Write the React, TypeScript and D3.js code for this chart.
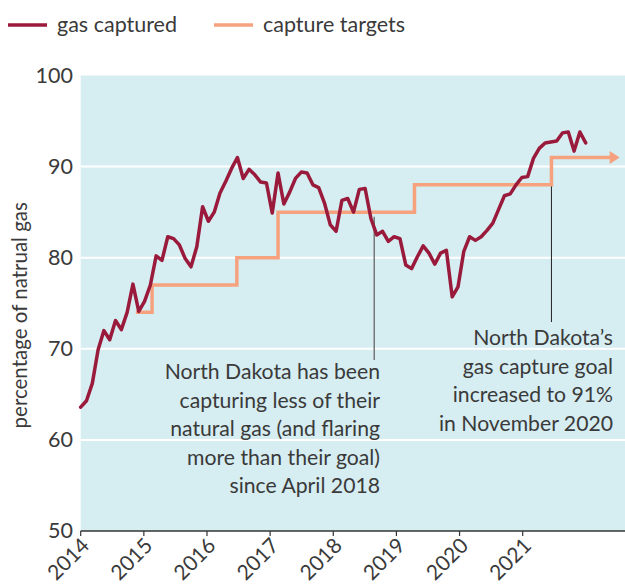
import React from 'react';
import * as d3 from 'd3';

// monthly share of gas captured, Jan 2014 onward
const captured = [
  63.6, 64.3, 66.2, 69.9, 72.0, 71.0, 73.1, 72.1, 74.0, 77.1, 74.1, 75.2,
  77.0, 80.2, 79.7, 82.3, 82.1, 81.4, 79.9, 79.0, 81.2, 85.6, 84.0, 85.0,
  87.1, 88.4, 89.8, 91.0, 88.7, 89.7, 89.1, 88.3, 88.2, 84.9, 89.3, 85.9,
  87.2, 88.7, 89.4, 89.3, 88.0, 87.7, 86.0, 83.6, 82.9, 86.3, 86.5, 85.0,
  87.5, 87.6, 84.3, 82.5, 82.9, 81.8, 82.3, 82.1, 79.2, 78.8, 80.1, 81.3,
  80.5, 79.3, 80.5, 80.8, 75.7, 76.8, 80.7, 82.3, 81.9, 82.3, 83.0, 83.8,
  85.3, 86.8, 87.0, 88.0, 88.8, 88.9, 90.9, 92.0, 92.6, 92.7, 92.8, 93.7,
  93.8, 91.7, 93.8, 92.6,
];

// capture targets: month index where each step starts, and its level
const targetStart = [9.5, 12.3, 26.9, 34.0, 57.5, 81.1];
const targetValue = [74, 77, 80, 85, 88, 91];
const targetEnd = 91.3;

const years = [2014, 2015, 2016, 2017, 2018, 2019, 2020, 2021];
const yTicks = [50, 60, 70, 80, 90, 100];

const noteLeft = [
  'North Dakota has been',
  'capturing less of their',
  'natural gas (and flaring',
  'more than their goal)',
  'since April 2018',
];
const noteRight = [
  'North Dakota\u2019s',
  'gas capture goal',
  'increased to 91%',
  'in November 2020',
];

const RED = '#9a1a3c';
const ORANGE = '#f6a27f';
const TEXT = '#3a3a3a';
const FONT = 'Lato, "Open Sans", sans-serif';

export default function App() {
  const width = 625;
  const height = 587;
  const left = 80.7;
  const right = 625;
  const top = 75.5;
  const bottom = 531;

  const x = d3.scaleLinear().domain([0, captured.length - 1]).range([left, 585.7]);
  const xYear = d3.scaleLinear().domain([2014, 2021]).range([left, 522.7]);
  const y = d3.scaleLinear().domain([50, 100]).range([bottom, top]);

  const line = d3.line<number>()
    .x((d, i) => x(i))
    .y((d) => y(d));

  const stepPts: [number, number][] = targetStart.map((s, i) => [s, targetValue[i]]);
  stepPts.push([targetEnd, targetValue[targetValue.length - 1]]);
  const stepLine = d3.line<[number, number]>()
    .x((d) => x(d[0]))
    .y((d) => y(d[1]))
    .curve(d3.curveStepAfter);

  const arrowX = x(targetEnd);
  const arrowY = y(targetValue[targetValue.length - 1]);

  const aprilX = x(51) - 2.5;
  const novX = x(targetStart[5]);

  return (
    <svg
      width={width}
      height={height}
      style={{ position: 'absolute', left: 0, top: 0, fontFamily: FONT }}
    >
      {/* legend */}
      <g>
        <line x1={8} x2={47} y1={25} y2={25} stroke={RED} strokeWidth={3.5} />
        <text x={57} y={32} fontSize={21.5} fill={TEXT}>gas captured</text>
        <line x1={214} x2={253} y1={25} y2={25} stroke={ORANGE} strokeWidth={3.5} />
        <text x={263} y={32} fontSize={21.5} fill={TEXT}>capture targets</text>
      </g>

      <rect x={left} y={top} width={right - left} height={bottom - top} fill="#d6edf2" />

      {yTicks.filter((t) => t > 50 && t < 100).map((t) => (
        <line key={t} x1={left} x2={right} y1={y(t)} y2={y(t)} stroke="#fff" strokeWidth={2} />
      ))}

      {yTicks.map((t) => (
        <text key={t} x={73} y={y(t) + 7} textAnchor="end" fontSize={21.5} fill={TEXT}>{t}</text>
      ))}

      <text
        transform={`translate(27, ${(top + bottom) / 2 + 12}) rotate(-90)`}
        textAnchor="middle"
        fontSize={20.5}
        fill={TEXT}
      >
        percentage of natrual gas
      </text>

      {/* bottom axis */}
      <line x1={left} x2={right} y1={bottom} y2={bottom} stroke="#333" strokeWidth={1.5} />
      {years.map((yr) => (
        <g key={yr} transform={`translate(${xYear(yr)}, ${bottom})`}>
          <line y2={5} stroke="#333" strokeWidth={1.2} />
          <text
            transform="translate(10, 16) rotate(-45)"
            textAnchor="end"
            fontSize={21}
            fill={TEXT}
          >
            {yr}
          </text>
        </g>
      ))}

      {/* annotation leaders */}
      <line x1={aprilX} x2={aprilX} y1={y(84.5)} y2={360} stroke="#777" strokeWidth={1.5} />
      <line x1={novX} x2={novX} y1={arrowY} y2={322} stroke="#222" strokeWidth={1} />

      {/* targets */}
      <path d={stepLine(stepPts) ?? ''} fill="none" stroke={ORANGE} strokeWidth={3.5} />
      <polygon
        points={`${arrowX - 1},${arrowY - 6.5} ${arrowX + 9},${arrowY} ${arrowX - 1},${arrowY + 6.5}`}
        fill={ORANGE}
      />

      {/* gas captured */}
      <path
        d={line(captured) ?? ''}
        fill="none"
        stroke={RED}
        strokeWidth={3.5}
        strokeLinejoin="round"
        strokeLinecap="round"
      />

      {noteLeft.map((s, i) => (
        <text key={s} x={380} y={379 + i * 28.5} textAnchor="end" fontSize={21.2} fill={TEXT}>{s}</text>
      ))}
      {noteRight.map((s, i) => (
        <text key={s} x={613} y={345 + i * 28.5} textAnchor="end" fontSize={21.2} fill={TEXT}>{s}</text>
      ))}
    </svg>
  );
}
